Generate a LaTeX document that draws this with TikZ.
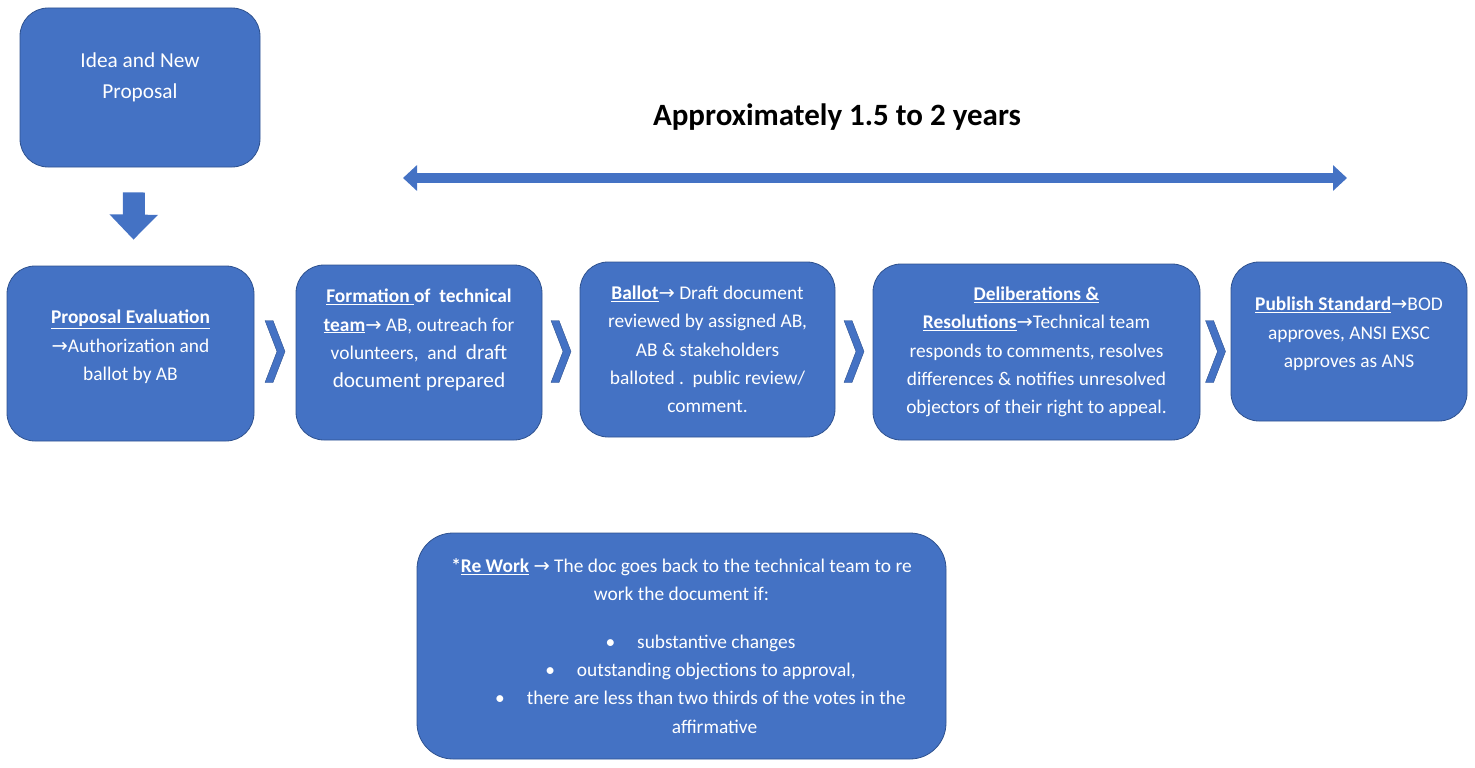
\documentclass[tikz,border=0pt]{standalone}
\usepackage{fontspec}
\setmainfont{Carlito}
\newfontfamily\arrowfont{DejaVu Sans}
\usetikzlibrary{arrows.meta,calc}
\definecolor{boxblue}{HTML}{4472C4}
\definecolor{edgeblue}{HTML}{2F528F}
\newcommand{\rarr}{{\arrowfont\char"2192}}
\newcommand{\bigtxt}{\fontsize{21.3}{28.3}\selectfont}
\tikzset{
	stage/.style={draw=edgeblue, fill=boxblue, line width=.8pt, rounded corners=28pt, text=white, align=center, inner sep=0pt, font=\fontsize{19.4}{28.3}\selectfont},
	chevron/.style={draw=edgeblue, fill=boxblue, line width=.4pt},
	blockarrow/.style={draw=boxblue, line width=22pt, -{Triangle[length=25pt,width=47pt]}},
	spanarrow/.style={draw=boxblue, line width=10pt, {Triangle[length=14pt,width=25pt]}-{Triangle[length=14pt,width=25pt]}}
}
\begin{document}
\begin{tikzpicture}[x=1pt, y=-1pt, line join=round]
	\useasboundingbox (0,0) rectangle (1475,768);
	\node[stage, font=\fontsize{21.3}{31}\selectfont, minimum width=240pt, minimum height=159pt] (idea) at (140,87.5) {Idea and New\\Proposal\\[-7pt]\mbox{}};
	\node[stage, minimum width=247pt, minimum height=175pt] (pe) at (130.5,353.5) {\underline{\textbf{Proposal Evaluation}}\\\rarr Authorization and\\ballot by AB\\[-12pt]\mbox{}};
	\node[stage, minimum width=246pt, minimum height=175pt] (ft) at (419,352.5) {\underline{\textbf{Formation }}\textbf{of\ \ technical}\\\underline{\textbf{team}}\rarr{} AB, outreach for\\volunteers,\ \ and\ \ {\bigtxt draft}\\{\bigtxt document prepared}\\\mbox{}};
	\node[stage, minimum width=255pt, minimum height=175pt] (bal) at (707.5,349.5) {\underline{\textbf{Ballot}}\rarr{} Draft document\\reviewed by assigned AB,\\AB \& stakeholders\\balloted .\ \ public review/\\comment.};
	\node[stage, minimum width=327pt, minimum height=176pt] (del) at (1036.5,352) {\underline{\textbf{Deliberations \&}}\\\underline{\textbf{Resolutions}}\rarr Technical team\\responds to comments, resolves\\differences \& notifies unresolved\\objectors of their right to appeal.};
	\node[stage, minimum width=236pt, minimum height=159pt] (pub) at (1349,341.5) {\underline{\textbf{Publish Standard}}\rarr BOD\\approves, ANSI EXSC\\approves as ANS\\[-10pt]\mbox{}};
	\node[stage, rounded corners=36pt, minimum width=529pt, minimum height=226pt] (rework) at (681.5,646) {\textbf{*\underline{Re Work}} \rarr{} The doc goes back to the technical team to re\\work the document if:\\[19pt]\hspace*{38pt}\textbullet\hspace{22pt}substantive changes\\\hspace*{38pt}\textbullet\hspace{22pt}outstanding objections to approval,\\\hspace*{38pt}\textbullet\hspace{22pt}there are less than two thirds of the votes in the\\\hspace*{66pt}affirmative};
	\node[font=\bfseries\fontsize{31}{36}\selectfont] (span) at (837,117) {Approximately 1.5 to 2 years};
	% time span
	\coordinate (spanL) at (403,178);
	\coordinate (spanR) at (1347,178);
	\draw[spanarrow] (spanL) -- (spanR);
	\draw[blockarrow] ([xshift=-6pt,yshift=-25pt]idea.south) -- ([xshift=3pt,yshift=26pt]pe.north);
	\foreach \a/\b in {pe/ft,ft/bal,bal/del,del/pub}{
		\path ($(\a.east)!.5!(\b.west)$) coordinate (m);
		\draw[chevron] (m |- pe.east) ++(-10,-33) -- ++(8,0) -- ++(12,31) -- ++(-12,31) -- ++(-8,0) -- ++(12,-31) -- cycle;
	}
\end{tikzpicture}
\end{document}
